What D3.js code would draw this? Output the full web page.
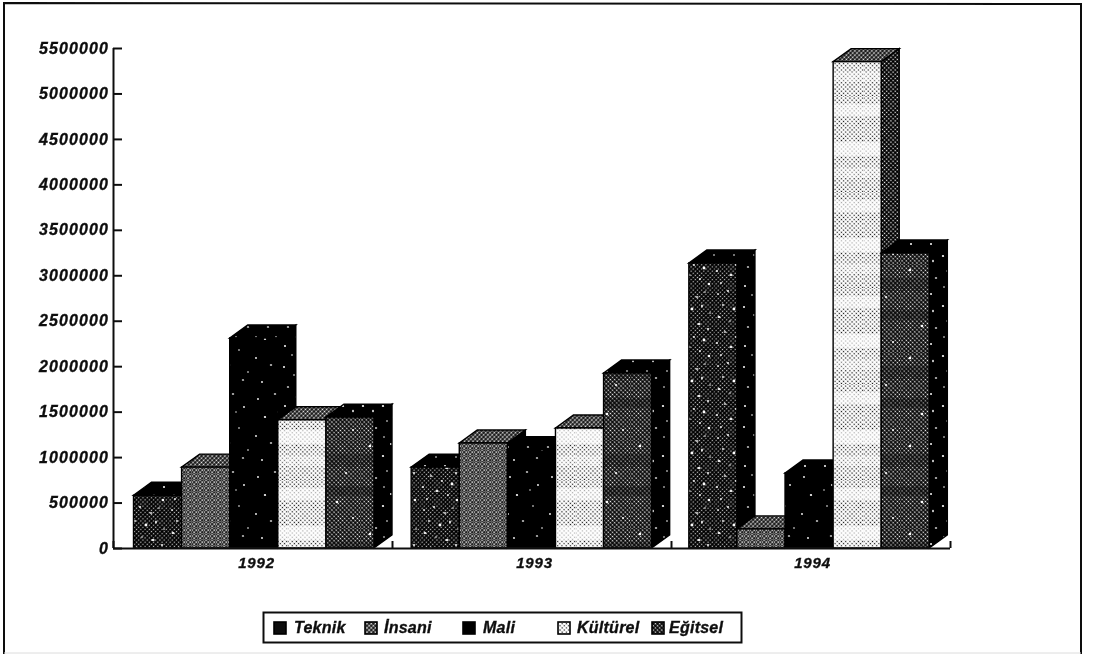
<!DOCTYPE html>
<html><head><meta charset="utf-8">
<script src="https://cdn.jsdelivr.net/npm/d3@7/dist/d3.min.js"></script>
<style>
html,body{margin:0;padding:0;background:#fff}
svg{display:block}
text{font-family:"Liberation Sans",Arial,sans-serif;font-weight:700;font-style:italic;fill:#111;stroke:#111;stroke-width:.35px}
</style></head><body>
<svg id="c" width="1095" height="654"></svg>
<script>
const years = ["1992","1993","1994"];
const seriesNames = ["Teknik","İnsani","Mali","Kültürel","Eğitsel"];
const teknik   = [580000, 890000, 3135000];
const insani   = [890000, 1155000, 210000];
const mali     = [2310000, 1080000, 825000];
const kulturel = [1410000, 1320000, 5350000];
const egitsel  = [1440000, 1925000, 3245000];
const seriesValues = [teknik, insani, mali, kulturel, egitsel];
const yTicks = [0,500000,1000000,1500000,2000000,2500000,3000000,3500000,4000000,4500000,5000000,5500000];

const svg = d3.select("#c");
const m = {left:113, right:950, top:48, bottom:548};
const depthX = 18, depthY = 13;

// textures imitating the halftone of the scan
const defs = svg.append("defs");
defs.append("filter").attr("id","soft").attr("x","-2%").attr("y","-2%").attr("width","104%").attr("height","104%")
  .append("feGaussianBlur").attr("stdDeviation",0.4);
function lattice(id, pitch, bg, dot, r){
  const p = defs.append("pattern").attr("id",id).attr("patternUnits","userSpaceOnUse")
    .attr("width",pitch).attr("height",pitch).attr("patternTransform","rotate(45)");
  p.append("rect").attr("width",pitch).attr("height",pitch).attr("fill",bg);
  p.append("circle").attr("cx",pitch/2).attr("cy",pitch/2).attr("r",r).attr("fill",dot);
}
function tile(id, w, h, base, bands, specks, speckColor){
  const p = defs.append("pattern").attr("id",id).attr("patternUnits","userSpaceOnUse").attr("width",w).attr("height",h);
  p.append("rect").attr("width",w).attr("height",h).attr("fill",base);
  bands.forEach(b=>p.append("rect").attr("y",b[0]).attr("width",w).attr("height",b[1]).attr("fill",b[2]).attr("opacity",b[3]));
  specks.forEach(s=>p.append("ellipse").attr("cx",s[0]).attr("cy",s[1]).attr("rx",s[2]).attr("ry",s[3]||s[2]).attr("fill",speckColor));
}
lattice("latInsani",3,"#111","#fff",0.95);
lattice("latEgitsel",3,"#080808","#f0f0f0",0.85);
lattice("latKulturel",3,"#fff","#111",0.72);
lattice("latTeknik",3,"#050505","#c8c8c8",0.7);
lattice("latSide",3,"#050505","#fff",0.72);
lattice("latTop",3,"#111","#f2f2f2",0.9);

const specksA = [[4,6,1.2,.8],[14,3,1],[25,9,1.6,.8],[33,4,.8],[9,17,.9],[20,21,1.4],[30,18,.9,1.5],[38,25,.8],[5,29,1.5,.9],[16,33,.8],[27,36,1.7,.9],[36,41,1],[11,44,1.3,.8],[22,49,.9],[32,52,1.4],[3,55,1],[17,59,1.6,.9],[28,63,.9],[7,67,.9],[37,68,1.2]];
const specksB = [[6,9,.9],[23,4,1.2,.7],[34,17,.9],[13,27,1.1],[29,38,.8],[4,46,.9],[19,53,1.2,.8],[38,60,.8],[10,70,.9],[26,22,.7],[33,68,1.1,.7]];

tile("fTeknik",42,72,"url(#latTeknik)",[],specksA,"#fff");
tile("fInsani",6,6,"url(#latInsani)",[],[], "#fff");
tile("fMali",42,78,"#050505",[],specksB,"#fff");
tile("fKulturel",48,96,"url(#latKulturel)",
  [[8,12,"#fff",.6],[46,14,"#fff",.65],[72,10,"#fff",.4]],[], "#fff");
tile("fEgitsel",45,88,"url(#latEgitsel)",
  [[14,13,"#000",.2],[46,10,"#000",.25]],[[10,6,1.2],[31,33,1.1],[22,62,1.3],[38,78,1]],"#fff");
tile("sDark",20,60,"#050505",[],[[4,7,1],[14,15,.8],[8,27,1.1,.8],[16,37,.8],[5,46,1],[12,55,.8]],"#fff");
tile("sEgitsel",20,50,"#050505",[],[[3,6,1.1],[13,11,.8,1.3],[7,21,.8],[16,28,1.2,.8],[4,37,.8],[11,44,1]],"#fff");

const faces = [
  {front:"url(#fTeknik)",   side:"url(#sDark)",   top:"url(#sDark)"},
  {front:"url(#fInsani)",   side:"url(#sDark)",   top:"url(#latTop)"},
  {front:"url(#fMali)",     side:"url(#sDark)",   top:"url(#sDark)"},
  {front:"url(#fKulturel)", side:"url(#latSide)", top:"url(#latTop)"},
  {front:"url(#fEgitsel)",  side:"url(#sEgitsel)",top:"url(#sEgitsel)"}
];

const root = svg.append("g").attr("filter","url(#soft)");

// frame
root.append("rect").attr("width",1095).attr("height",654).attr("fill","#fff");
const frame = root.append("g");
frame.append("path").attr("d",`M4,654 L4,3 L1081,4 L1081,654`).attr("fill","none").attr("stroke","#111").attr("stroke-width",2);
frame.append("line").attr("x1",4).attr("x2",1081).attr("y1",653).attr("y2",653).attr("stroke","#dcdcdc").attr("stroke-width",1);

// scales
const y = d3.scaleLinear().domain([0,5500000]).range([m.bottom,m.top]);
const xGroup = d3.scaleBand().domain(years).range([113,946]);
const groupOffset = 20;
const xBar = d3.scaleBand().domain(seriesNames).range([0.5,241]);
const edgeScale = d3.scalePoint().domain(["start",...years]).range([m.left,m.right]);

// bars
const bars = root.append("g");
years.forEach((yr,gi)=>{
  seriesNames.forEach((name,si)=>{
    const v = seriesValues[si][gi];
    const x0 = xGroup(yr)+groupOffset+xBar(name), w = xBar.bandwidth();
    const x1 = x0+w, yt = y(v), yb = y(0);
    const f = faces[si];
    const g = bars.append("g").attr("stroke","#000").attr("stroke-width",1.4).attr("stroke-linejoin","miter");
    g.append("polygon").attr("fill",f.side)
      .attr("points",[[x1,yt],[x1+depthX,yt-depthY],[x1+depthX,yb-depthY],[x1,yb]].join(" "));
    g.append("polygon").attr("fill",f.top)
      .attr("points",[[x0,yt],[x0+depthX,yt-depthY],[x1+depthX,yt-depthY],[x1,yt]].join(" "));
    g.append("rect").attr("x",x0).attr("y",yt).attr("width",w).attr("height",yb-yt).attr("fill",f.front);
  });
});

// axes
const yAxis = d3.axisLeft(y).tickValues(yTicks).tickFormat(d3.format("d")).tickSize(-9).tickPadding(4);
const gy = root.append("g").attr("transform",`translate(${m.left},0)`).call(yAxis);
gy.select(".domain").attr("stroke","#111").attr("stroke-width",2).attr("d",`M0.5,${m.top}V${m.bottom}`);
gy.selectAll(".tick line").attr("stroke","#111").attr("stroke-width",2);
gy.selectAll("text").attr("font-size",16).attr("letter-spacing",1.1).attr("font-family",null).attr("fill",null);

const xEdges = d3.axisBottom(edgeScale).tickSize(-7).tickFormat("");
const ge = root.append("g").attr("transform",`translate(0,${m.bottom})`).call(xEdges);
ge.select(".domain").attr("stroke","#111").attr("stroke-width",2).attr("d",`M${m.left},0.5H${m.right}`);
ge.selectAll(".tick line").attr("stroke","#111").attr("stroke-width",2);

const xAxis = d3.axisBottom(d3.scalePoint().domain(years).range([256,812])).tickSize(0).tickPadding(9);
const gx = root.append("g").attr("transform",`translate(0,${m.bottom})`).call(xAxis);
gx.select(".domain").remove();
gx.selectAll("text").attr("font-size",15).attr("letter-spacing",0.8).attr("font-family",null).attr("fill",null);

// legend
const leg = root.append("g");
leg.append("rect").attr("x",263.5).attr("y",612.5).attr("width",478).attr("height",30).attr("fill","#fff").attr("stroke","#111").attr("stroke-width",2);
const legendSwatchX = d3.scaleOrdinal().domain(seriesNames).range([274,365,463,558,652]);
const legendSwatchFill = ["#111","url(#latInsani)","#050505","url(#latKulturel)","url(#latEgitsel)"];
seriesNames.forEach((n,i)=>{
  const sx = legendSwatchX(n);
  leg.append("rect").attr("x",sx).attr("y",622).attr("width",12).attr("height",12)
    .attr("fill",legendSwatchFill[i]).attr("stroke","#000").attr("stroke-width",1.6);
  leg.append("text").attr("x",sx+(i===4?17:i===1?19:i===3?19:20)).attr("y",633).attr("font-size",16).attr("letter-spacing",0.25).text(n);
});
</script>
</body></html>
